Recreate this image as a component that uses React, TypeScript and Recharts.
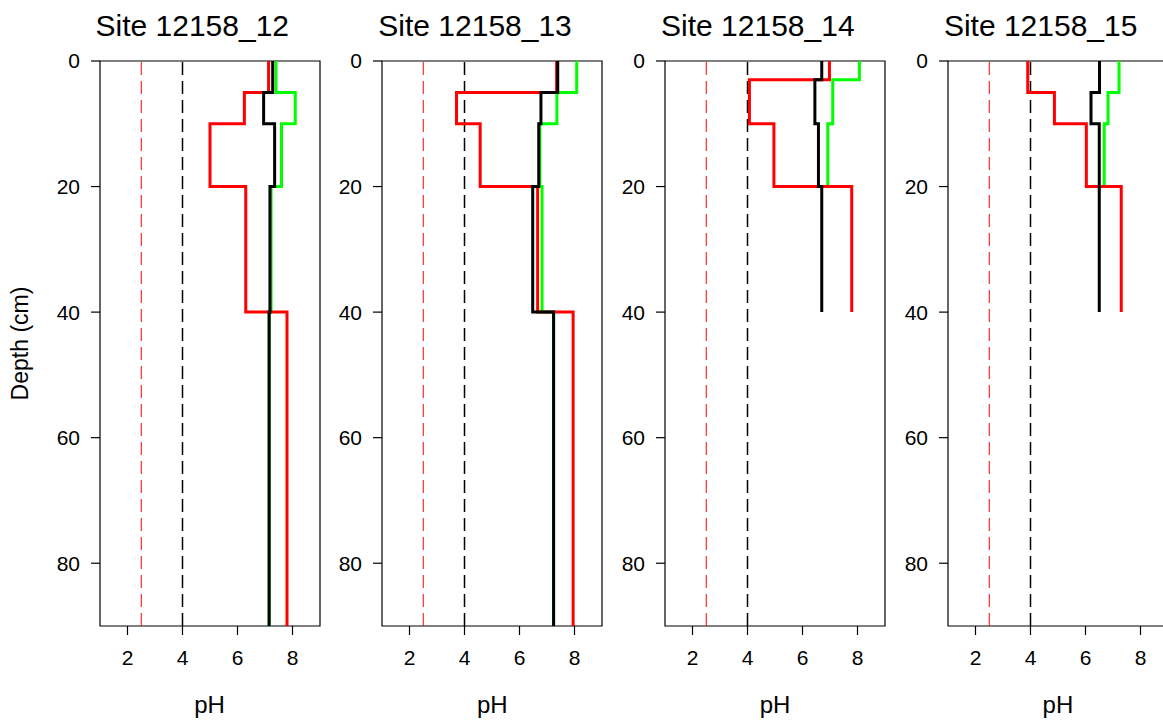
import React from 'react';
import { ScatterChart, Scatter, XAxis, YAxis, ReferenceLine, ReferenceArea } from 'recharts';

// Layer boundaries (cm) and pH per layer for each site
const sites = ['12158_12', '12158_13', '12158_14', '12158_15'];

const depths12 = [0, 5, 10, 20, 40, 90];
const red12 = [7.13, 6.25, 5.0, 6.3, 7.8];
const black12 = [7.28, 6.95, 7.35, 7.18, 7.15];
const green12 = [7.4, 8.1, 7.6, 7.22, 7.15];

const depths13 = [0, 5, 10, 20, 40, 90];
const red13 = [7.35, 3.71, 4.57, 6.66, 7.95];
const black13 = [7.39, 6.78, 6.7, 6.48, 7.24];
const green13 = [8.08, 7.36, 6.74, 6.82, 7.24];

const depths14 = [0, 3, 10, 20, 40];
const red14 = [6.98, 4.07, 4.96, 7.79];
const black14 = [6.7, 6.45, 6.58, 6.7];
const green14 = [8.07, 7.1, 6.92];

const depths15 = [0, 5, 10, 20, 40];
const red15 = [3.9, 4.87, 6.03, 7.3];
const black15 = [6.51, 6.2, 6.5, 6.5];
const green15 = [7.22, 6.82, 6.68];

const pHTicks = [2, 4, 6, 8];
const depthTicks = [0, 20, 40, 60, 80];
const redThreshold = 2.5;
const blackThreshold = 4;

const FONT = '"Liberation Sans", Arial, Helvetica, sans-serif';
const FIRST_PLOT_LEFT = 99.5;
const PANEL_STEP = 282.8;
const PLOT_W = 220;

// turn per-layer values into a stepped depth profile
const profile = (depths: number[], values: number[]) => {
  const pts: { ph: number; depth: number }[] = [];
  values.forEach((v, i) => {
    pts.push({ ph: v, depth: depths[i] });
    pts.push({ ph: v, depth: depths[i + 1] });
  });
  return pts;
};

const panels = [
  { depths: depths12, red: red12, black: black12, green: green12 },
  { depths: depths13, red: red13, black: black13, green: green13 },
  { depths: depths14, red: red14, black: black14, green: green14 },
  { depths: depths15, red: red15, black: black15, green: green15 },
];

const NoDot = () => <g />;

const Panel = ({ index }: { index: number }) => {
  const p = panels[index];
  const plotLeft = FIRST_PLOT_LEFT + PANEL_STEP * index;
  const series = [
    { key: 'green', color: '#00ff00', data: profile(p.depths, p.green) },
    { key: 'red', color: '#ff0000', data: profile(p.depths, p.red) },
    { key: 'black', color: '#000000', data: profile(p.depths, p.black) },
  ];
  return (
    <div style={{ position: 'absolute', left: plotLeft - 80, top: 0 }}>
      <ScatterChart width={305} height={720} margin={{ top: 61, right: 5, bottom: 14, left: 30 }}>
        <XAxis
          type="number"
          dataKey="ph"
          domain={[1, 9]}
          ticks={pHTicks}
          height={80}
          axisLine={false}
          tickSize={9}
          tickMargin={15}
          tickLine={{ stroke: '#000', strokeWidth: 1.2 }}
          tick={{ fill: '#000', fontSize: 21, fontFamily: FONT }}
          allowDataOverflow
        />
        <YAxis
          type="number"
          dataKey="depth"
          domain={[0, 90]}
          reversed
          ticks={depthTicks}
          width={50}
          axisLine={false}
          tickSize={9}
          tickMargin={11}
          tickLine={{ stroke: '#000', strokeWidth: 1.2 }}
          tick={{ fill: '#000', fontSize: 21, fontFamily: FONT }}
          allowDataOverflow
        />
        <ReferenceArea x1={1} x2={9} y1={0} y2={90} fill="none" stroke="#000" strokeWidth={1.2} fillOpacity={0} />
        <ReferenceLine x={redThreshold} stroke="#ff0000" strokeWidth={1} strokeDasharray="13 6" />
        <ReferenceLine x={blackThreshold} stroke="#000" strokeWidth={1.5} strokeDasharray="13 6" />
        {series.map((s) => (
          <Scatter
            key={s.key}
            data={s.data}
            fill={s.color}
            line={{ stroke: s.color, strokeWidth: 3 }}
            shape={NoDot}
            legendType="none"
            isAnimationActive={false}
          />
        ))}
      </ScatterChart>
    </div>
  );
};

export default function App() {
  return (
    <div
      style={{
        position: 'absolute',
        left: 0,
        top: 0,
        width: 1163,
        height: 720,
        overflow: 'hidden',
        background: '#fff',
        fontFamily: FONT,
      }}
    >
      {sites.map((s, i) => (
        <Panel key={s} index={i} />
      ))}
      <svg width={1163} height={720} style={{ position: 'absolute', left: 0, top: 0, pointerEvents: 'none' }}>
        {sites.map((s, i) => {
          const plotLeft = FIRST_PLOT_LEFT + PANEL_STEP * i;
          return (
            <g key={s}>
              <text x={plotLeft - 4} y={36} fontSize={30} fontFamily={FONT} fill="#000">
                {`Site ${s}`}
              </text>
              <text x={plotLeft + PLOT_W / 2} y={713} fontSize={24} fontFamily={FONT} fill="#000" textAnchor="middle">
                pH
              </text>
            </g>
          );
        })}
        <text
          x={28}
          y={343.5}
          fontSize={23}
          fontFamily={FONT}
          fill="#000"
          textAnchor="middle"
          transform="rotate(-90 28 343.5)"
        >
          Depth (cm)
        </text>
      </svg>
    </div>
  );
}
